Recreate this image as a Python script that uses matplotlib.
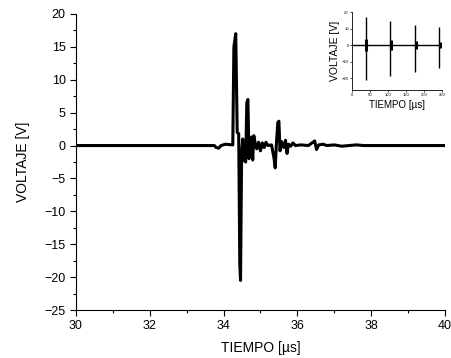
import matplotlib.pyplot as plt
from matplotlib.ticker import MultipleLocator

plt.rcParams['font.family'] = ['Liberation Sans', 'DejaVu Sans']

# main trace (time in us, voltage in V)
t_us = [30.0, 33.75, 33.8, 33.87, 33.93, 34.05, 34.25, 34.28, 34.33, 34.37, 34.41,
        34.44, 34.46, 34.49, 34.52, 34.55, 34.6, 34.63, 34.66, 34.69, 34.72, 34.76,
        34.79, 34.82, 34.86, 34.9, 34.95, 35.0, 35.05, 35.1, 35.15, 35.2, 35.3,
        35.37, 35.4, 35.43, 35.47, 35.5, 35.53, 35.57, 35.63, 35.68, 35.72, 35.76,
        35.82, 35.88, 35.95, 36.1, 36.3, 36.42, 36.47, 36.52, 36.58, 36.7, 36.8,
        37.0, 37.2, 37.4, 37.6, 37.8, 40.0]
volt = [0.0, 0.0, -0.3, -0.4, 0.0, 0.2, 0.1, 15.0, 17.0, 2.0, 1.8,
        -18.0, -20.5, -1.0, 1.0, -2.2, -2.5, 6.5, 7.0, -2.0, 0.5, 1.3,
        -2.2, 1.5, 0.3, -0.5, 0.5, -0.8, 0.4, -0.3, 0.5, 0.0, 0.1,
        -2.0, -3.4, 0.0, 3.5, 3.7, -0.8, 0.6, -0.3, 0.8, -1.2, 0.2,
        -0.1, 0.4, 0.0, 0.1, 0.0, 0.5, 0.7, -0.6, 0.1, 0.2, 0.0,
        0.1, -0.1, 0.0, 0.1, 0.0, 0.0]

# inset: four pulses over the whole record
pulse_t = [37, 105, 174, 241]
pulse_max = [17, 14.5, 12.5, 11]
pulse_min = [-21, -18.5, -16, -13.5]
ring_max = [3.5, 3, 2.5, 2]
ring_min = [-3.5, -3, -2, -1.5]

fig = plt.figure(figsize=(4.51, 3.58), dpi=100)
ax = fig.add_axes([0.1685, 0.134, 0.818, 0.827])
ax.plot(t_us, volt, color='black', lw=2.2, solid_joinstyle='round')
ax.set_xlim(30, 40)
ax.set_ylim(-25, 20)
ax.xaxis.set_major_locator(MultipleLocator(2))
ax.xaxis.set_minor_locator(MultipleLocator(1))
ax.yaxis.set_major_locator(MultipleLocator(5))
ax.yaxis.set_minor_locator(MultipleLocator(2.5))
ax.spines['top'].set_visible(False)
ax.spines['right'].set_visible(False)
ax.tick_params(direction='out', labelsize=9, length=4, width=0.8)
ax.tick_params(which='minor', direction='out', length=2.5, width=0.8)
ax.set_xlabel('TIEMPO [µs]', fontsize=10, labelpad=6)
ax.set_ylabel('VOLTAJE [V]', fontsize=10, labelpad=10)

ins = fig.add_axes([0.781, 0.749, 0.2, 0.217])
ins.plot([0, 250], [0, 0], color='black', lw=1.0)
ins.vlines(pulse_t, pulse_min, pulse_max, color='black', lw=1.0)
ins.vlines([p + 1.5 for p in pulse_t], ring_min, ring_max, color='black', lw=2.2)
ins.set_xlim(0, 250)
ins.set_ylim(-27, 20)
ins.set_xticks([0, 50, 100, 150, 200, 250])
ins.set_yticks([-20, -10, 0, 10, 20])
ins.spines['top'].set_visible(False)
ins.spines['right'].set_visible(False)
ins.tick_params(direction='out', labelsize=3, length=1.5, width=0.5, pad=1)
for s in ins.spines.values():
    s.set_linewidth(0.6)
ins.set_xlabel('TIEMPO [µs]', fontsize=7, labelpad=2)
ins.set_ylabel('VOLTAJE [V]', fontsize=7.5, labelpad=1)
ins.patch.set_alpha(0)

fig.savefig('out.png', dpi=100)
